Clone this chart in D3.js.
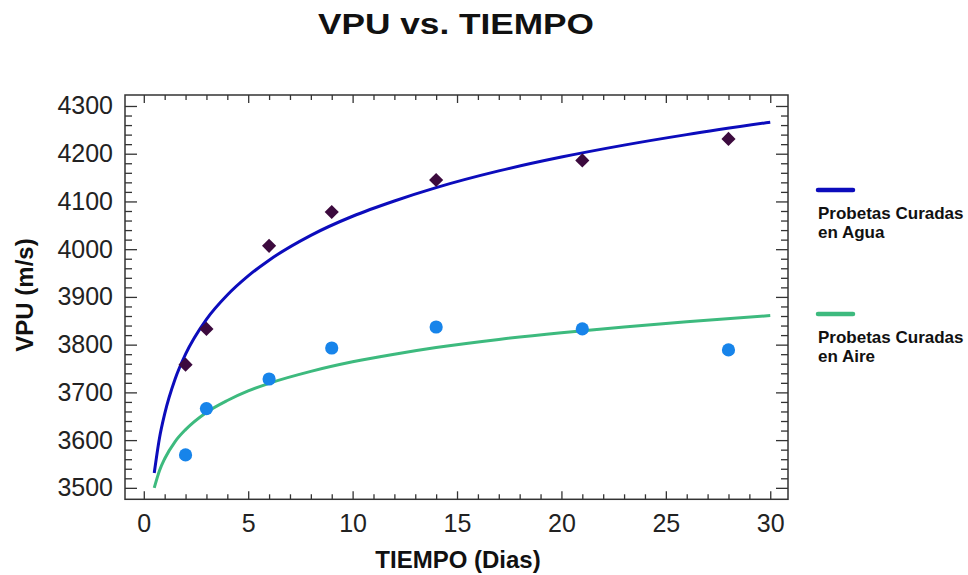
<!DOCTYPE html>
<html>
<head>
<meta charset="utf-8">
<script src="https://cdn.jsdelivr.net/npm/d3@7"></script>
<style>
  html, body { margin: 0; padding: 0; background: #fff; }
  svg { display: block; font-family: "Liberation Sans", Arial, sans-serif; }
</style>
</head>
<body>
<svg id="chart" width="968" height="575"></svg>
<script>
// ---- data ----
const dias = [2, 3, 6, 9, 14, 21, 28];
const vpuAgua = [3758, 3833, 4007, 4078, 4145, 4186, 4231];
const vpuAire = [3569, 3666, 3728, 3793, 3837, 3833, 3789];

// fitted curves
const fitX =      [0.5, 0.75, 1, 1.5, 2, 3, 4, 5, 6, 8, 10, 12, 14, 17, 20, 23, 26, 30];
const fitAgua =   [3531, 3604, 3655, 3728, 3780, 3853, 3904, 3944, 3977, 4029, 4069, 4101, 4129, 4164, 4193, 4218, 4240, 4266];
const fitAire =   [3500, 3536, 3561, 3597, 3622, 3658, 3683, 3703, 3719, 3744, 3764, 3780, 3794, 3811, 3825, 3837, 3848, 3861];

const xMajorTicks = [0, 5, 10, 15, 20, 25, 30];
const yMajorTicks = [3500, 3600, 3700, 3800, 3900, 4000, 4100, 4200, 4300];
const seriesNames = [["Probetas Curadas", "en Agua"], ["Probetas Curadas", "en Aire"]];

const titleText = "VPU vs. TIEMPO";
const xLabel = "TIEMPO (Dias)";
const yLabel = "VPU (m/s)";

// ---- layout ----
const svg = d3.select("#chart");
const L = 125, R = 788, T = 95, B = 499.3;

const x = d3.scaleLinear().domain([-0.9, 30.85]).range([L, R]);
const y = d3.scaleLinear().domain([3476, 4323]).range([B, T]);

const axisColor = "#333";
const cAguaLine = "#0c0cbc", cAireLine = "#3dba7e";
const cAguaPt = "#3c0a3e", cAirePt = "#1784ea";

const xMinor = d3.range(0, 31, 1).filter(v => v % 5 !== 0);
const yMinor = d3.range(3500, 4301, 20).filter(v => v % 100 !== 0);

function styleAxis(g) {
  g.select(".domain").remove();
  g.selectAll("line").attr("stroke", axisColor).attr("stroke-width", 1.3);
  g.selectAll("text").attr("fill", "#222").style("font-size", "25px")
    .style("font-family", '"Liberation Sans", Arial, sans-serif');
}

// bottom
svg.append("g").attr("transform", `translate(0,${B})`)
  .call(d3.axisBottom(x).tickValues(xMajorTicks).tickSize(-8).tickPadding(15).tickFormat(d3.format("d")))
  .call(styleAxis);
svg.append("g").attr("transform", `translate(0,${B})`)
  .call(d3.axisBottom(x).tickValues(xMinor).tickSize(-5).tickFormat(""))
  .call(styleAxis);
// top
svg.append("g").attr("transform", `translate(0,${T})`)
  .call(d3.axisTop(x).tickValues(xMajorTicks).tickSize(-8).tickFormat(""))
  .call(styleAxis);
svg.append("g").attr("transform", `translate(0,${T})`)
  .call(d3.axisTop(x).tickValues(xMinor).tickSize(-5).tickFormat(""))
  .call(styleAxis);
// left
svg.append("g").attr("transform", `translate(${L},0)`)
  .call(d3.axisLeft(y).tickValues(yMajorTicks).tickSize(-12).tickPadding(12).tickFormat(d3.format("d")))
  .call(styleAxis);
svg.append("g").attr("transform", `translate(${L},0)`)
  .call(d3.axisLeft(y).tickValues(yMinor).tickSize(-7).tickFormat(""))
  .call(styleAxis);
// right
svg.append("g").attr("transform", `translate(${R},0)`)
  .call(d3.axisRight(y).tickValues(yMajorTicks).tickSize(-12).tickFormat(""))
  .call(styleAxis);
svg.append("g").attr("transform", `translate(${R},0)`)
  .call(d3.axisRight(y).tickValues(yMinor).tickSize(-7).tickFormat(""))
  .call(styleAxis);

// frame
svg.append("rect").attr("x", L).attr("y", T).attr("width", R - L).attr("height", B - T)
  .attr("fill", "none").attr("stroke", axisColor).attr("stroke-width", 1.5);

// fit lines
const line = d3.line().x(d => x(d[0])).y(d => y(d[1])).curve(d3.curveMonotoneX);
svg.append("path").datum(fitX.map((v, i) => [v, fitAgua[i]]))
  .attr("d", line).attr("fill", "none").attr("stroke", cAguaLine).attr("stroke-width", 3);
svg.append("path").datum(fitX.map((v, i) => [v, fitAire[i]]))
  .attr("d", line).attr("fill", "none").attr("stroke", cAireLine).attr("stroke-width", 3);

// points
const diamond = d3.symbol().type(d3.symbolSquare).size(100);
svg.append("g").selectAll("path").data(dias.map((d, i) => [d, vpuAgua[i]])).join("path")
  .attr("d", diamond)
  .attr("transform", d => `translate(${x(d[0])},${y(d[1])}) rotate(45)`)
  .attr("fill", cAguaPt);
svg.append("g").selectAll("circle").data(dias.map((d, i) => [d, vpuAire[i]])).join("circle")
  .attr("cx", d => x(d[0])).attr("cy", d => y(d[1])).attr("r", 6.6)
  .attr("fill", cAirePt);

// titles
svg.append("text").attr("x", 456).attr("y", 34).attr("text-anchor", "middle")
  .attr("font-weight", "bold").attr("font-size", 29).attr("fill", "#111")
  .attr("textLength", 276).attr("lengthAdjust", "spacingAndGlyphs")
  .text(titleText);
svg.append("text").attr("x", 458).attr("y", 568).attr("text-anchor", "middle")
  .attr("font-weight", "bold").attr("font-size", 24).attr("fill", "#111")
  .text(xLabel);
svg.append("text").attr("transform", "translate(33,295) rotate(-90)").attr("text-anchor", "middle")
  .attr("font-weight", "bold").attr("font-size", 24).attr("fill", "#111")
  .text(yLabel);

// legend
const legendY = [190, 314];
const legendColors = [cAguaLine, cAireLine];
const lg = svg.append("g");
seriesNames.forEach((nm, i) => {
  lg.append("line").attr("x1", 818).attr("x2", 853).attr("y1", legendY[i]).attr("y2", legendY[i])
    .attr("stroke", legendColors[i]).attr("stroke-width", 4.5).attr("stroke-linecap", "round");
  nm.forEach((t, j) => {
    lg.append("text").attr("x", 818).attr("y", legendY[i] + 29 + j * 18.5)
      .attr("font-weight", "bold").attr("font-size", 17).attr("fill", "#111").text(t);
  });
});
</script>
</body>
</html>
